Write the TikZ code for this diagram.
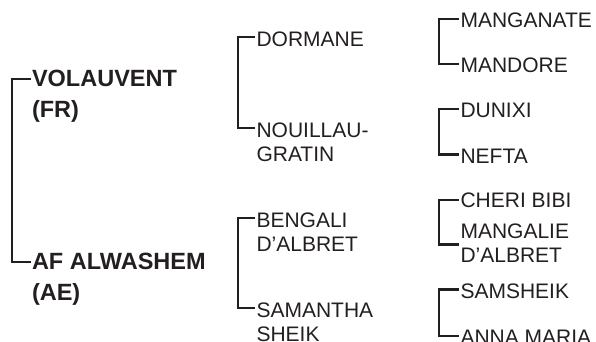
\documentclass[tikz,border=0pt]{standalone}
\usepackage{fontspec}
\setmainfont{Liberation Sans}
\usepackage{tikz}
\definecolor{pedink}{HTML}{231F20}
\tikzstyle{bracket} = [draw, line width=2.5pt, color=pedink]
\tikzstyle{horse_main} = [anchor=base west, align=left, inner sep=0pt, outer sep=1.5pt, text=pedink, font=\fontsize{23.5}{31}\selectfont\bfseries]
\tikzstyle{horse_anc} = [anchor=base west, align=left, inner sep=0pt, outer sep=1.5pt, text=pedink, font=\fontsize{21}{24.5}\selectfont]

\begin{document}
\begin{tikzpicture}[x=1pt, y=-1pt]
		\useasboundingbox (0,0) rectangle (596,341);
		
		% parents (base of a two-line node = its last line)
		\node[horse_main] (sire) at (30.5,117) {VOLAUVENT\\(FR)};
		\node[horse_main] (dam) at (30.5,300) {AF ALWASHEM\\(AE)};
		\path [bracket] ([yshift=38pt]sire.base west) -- ++(-18.5,0) |- ([yshift=38pt]dam.base west);
		
		% grandparents
		\node[horse_anc] (sire_s) at (255,46) {DORMANE};
		\node[horse_anc] (sire_d) at (255,161.5) {NOUILLAU-\\GRATIN};
		\path [bracket] ([yshift=9pt]sire_s.base west) -- ++(-17,0) |- ([yshift=33.5pt]sire_d.base west);
		
		\node[horse_anc] (dam_s) at (255,251.5) {BENGALI\\D’ALBRET};
		\node[horse_anc] (dam_d) at (255,341.5) {SAMANTHA\\SHEIK};
		\path [bracket] ([yshift=33.5pt]dam_s.base west) -- ++(-17,0) |- ([yshift=33.5pt]dam_d.base west);
		
		% great-grandparents
		\node[horse_anc] (sire_ss) at (459,27.5) {MANGANATE};
		\node[horse_anc] (sire_sd) at (459,72.5) {MANDORE};
		\path [bracket] ([yshift=8.5pt]sire_ss.base west) -- ++(-20,0) |- ([yshift=8.5pt]sire_sd.base west);
		
		\node[horse_anc] (sire_ds) at (459,117.5) {DUNIXI};
		\node[horse_anc] (sire_dd) at (459,163) {NEFTA};
		\path [bracket] ([yshift=8.5pt]sire_ds.base west) -- ++(-20,0) |- ([yshift=8.5pt]sire_dd.base west);
		
		\node[horse_anc] (dam_ss) at (459,207) {CHERI BIBI};
		\node[horse_anc] (dam_sd) at (459,262.5) {MANGALIE\\D’ALBRET};
		\path [bracket] ([yshift=7pt]dam_ss.base west) -- ++(-20,0) |- ([yshift=18pt]dam_sd.base west);
		
		\node[horse_anc] (dam_ds) at (459,298) {SAMSHEIK};
		\node[horse_anc] (dam_dd) at (459,344.5) {ANNA MARIA};
		\path [bracket] ([yshift=8.5pt]dam_ds.base west) -- ++(-20,0) |- ([yshift=8.5pt]dam_dd.base west);
\end{tikzpicture}
\end{document}
